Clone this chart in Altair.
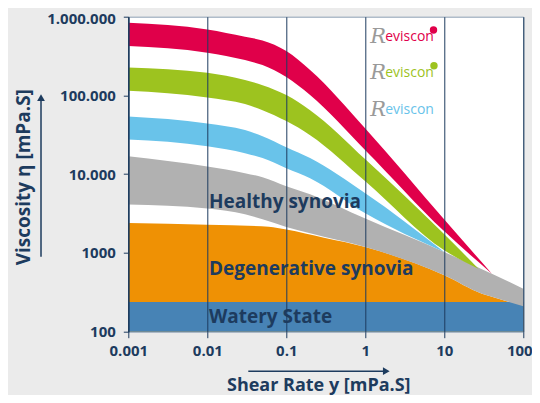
import altair as alt
import pandas as pd

NAVY = "#1d3b5e"
FONT = "Open Sans"

# ---- data ----
red_x = [0.001, 0.01, 0.03, 0.05, 0.1, 0.2, 1, 10, 40]
red_top = [840000, 690000, 557000, 498000, 366000, 210000, 38000, 2650, 546]
red_bot = [424000, 349000, 281000, 243000, 171000, 101000, 20200, 1880, 546]

green_x = [0.001, 0.01, 0.03, 0.05, 0.1, 0.2, 1, 10, 27]
green_top = [227000, 194000, 157000, 135000, 101000, 65000, 15500, 1730, 632]
green_bot = [115000, 94400, 77600, 65100, 47200, 31300, 8150, 1080, 632]

blue_x = [0.001, 0.01, 0.03, 0.05, 0.1, 0.2, 1, 10]
blue_top = [54100, 44100, 36300, 30400, 22000, 16000, 5730, 1028]
blue_bot = [27600, 22700, 18500, 16000, 11900, 8900, 3190, 1028]

gray_x = [0.001, 0.01, 0.03, 0.05, 0.1, 0.2, 1, 10, 30, 40, 100]
gray_top = [16900, 12500, 10300, 9160, 7040, 5570, 2730, 1028, 622, 546, 352]
gray_bot = [4120, 3660, 3100, 2680, 2140, 1780, 1190, 520, 304, 278, 210]

orange_x = [0.001, 0.01, 0.06, 0.1, 0.3, 1, 10, 30, 40, 100]
orange_top = [2400, 2280, 2150, 1980, 1560, 1190, 520, 304, 278, 210]

watery_x = [0.001, 100]
watery_level = 238
floor_level = 100

x_ticks = [0.001, 0.01, 0.1, 1, 10, 100]
y_ticks = [100, 1000, 10000, 100000, 1000000]

zone_labels = ["Healthy synovia", "Degenerative synovia", "Watery State"]
zone_x = [0.0105, 0.0105, 0.0105]
zone_y = [4500, 623, 155]

logo_colors = ["#e0004a", "#9dc31f", "#69c3ea"]
logo_x = [1.784, 1.784, 1.784]
logo_y = [495000, 172600, 57400]
dot_x = [7.3, 7.4]
dot_y = [677000, 238000]
dot_colors = ["#e0004a", "#9dc31f"]

# ---- scales / axes ----
xscale = alt.Scale(type="log", domain=[0.001, 100])
yscale = alt.Scale(type="log", domain=[100, 1000000])

xaxis = alt.Axis(
    values=x_ticks,
    labelExpr="datum.value < 1 ? format(datum.value, '.3~f') : format(datum.value, 'd')",
    labelOffset=alt.ExprRef(expr="datum.value == 100 ? -4 : 0"),
    grid=True, gridColor=NAVY, gridOpacity=1, gridWidth=1,
    domain=False, ticks=True, tickColor=NAVY, tickSize=6,
    labelFont=FONT, labelFontWeight="bold", labelFontSize=15, labelColor=NAVY,
    labelPadding=6, labelFlush=False,
    title="Shear Rate y [mPa.S]", titleFont=FONT, titleFontWeight="bold",
    titleFontSize=18, titleColor=NAVY, titleX=190, titleY=58.5,
    titleAlign="center", titleBaseline="alphabetic", zindex=1,
)
yaxis = alt.Axis(
    values=y_ticks,
    labelExpr="datum.value == 1000000 ? '1.000.000' : datum.value == 100000 ? '100.000' : datum.value == 10000 ? '10.000' : datum.value == 1000 ? '1000' : '100'",
    labelOffset=alt.ExprRef(expr="datum.value == 1000000 ? 2 : 0"),
    grid=False, domain=True, domainColor=NAVY, domainWidth=1.5,
    ticks=True, tickColor=NAVY, tickSize=5,
    labelFont=FONT, labelFontWeight="bold", labelFontSize=15, labelColor=NAVY,
    labelPadding=8, labelFlush=False,
    title="Viscosity η [mPa.S]", titleFont=FONT, titleFontWeight="bold",
    titleFontSize=19, titleColor=NAVY, titleX=-99, titleY=160, titleAngle=-90,
    titleAlign="center", titleBaseline="alphabetic", zindex=1,
)


def X(field):
    return alt.X(field, type="quantitative", scale=xscale, axis=xaxis)


def Y(field):
    return alt.Y(field, type="quantitative", scale=yscale, axis=yaxis)


def band(xs, tops, bots, color):
    df = pd.DataFrame({"x": xs, "top": tops, "bot": bots})
    return alt.Chart(df).mark_area(color=color, interpolate="monotone", opacity=1).encode(
        x=X("x"), y=Y("top"), y2="bot"
    )


orange = band(orange_x, orange_top, [floor_level] * len(orange_x), "#ef9104")
watery = band(watery_x, [watery_level] * 2, [floor_level] * 2, "#4783b5")
gray = band(gray_x, gray_top, gray_bot, "#b1b1b1")
blue = band(blue_x, blue_top, blue_bot, "#69c3ea")
green = band(green_x, green_top, green_bot, "#9dc31f")
red = band(red_x, red_top, red_bot, "#e0004a")

zones = alt.Chart(pd.DataFrame({"x": zone_x, "y": zone_y, "t": zone_labels})).mark_text(
    align="left", baseline="middle", font=FONT, fontWeight="bold", fontSize=19, color=NAVY
).encode(x=X("x"), y=Y("y"), text="t:N")

logo_df = pd.DataFrame({"x": logo_x, "y": logo_y, "c": logo_colors})
logo_R = alt.Chart(logo_df).mark_text(
    align="right", baseline="alphabetic", font="DejaVu Serif", fontStyle="italic",
    fontSize=21, color="#9a9a9a", dx=1, dy=2
).encode(x=X("x"), y=Y("y"), text=alt.value("R"))
logo_word = alt.Chart(logo_df).mark_text(
    align="left", baseline="alphabetic", font=FONT, fontSize=14
).encode(x=X("x"), y=Y("y"), text=alt.value("eviscon"),
         color=alt.Color("c:N", scale=None))
dots = alt.Chart(pd.DataFrame({"x": dot_x, "y": dot_y, "c": dot_colors})).mark_point(
    filled=True, size=55, opacity=1
).encode(x=X("x"), y=Y("y"), color=alt.Color("c:N", scale=None))

one = alt.Data(values=[{"a": 1}])
y_arrow = alt.Chart(one).mark_rule(color=NAVY, strokeWidth=1.5).encode(
    x=alt.value(-87.3), y=alt.value(240), y2=alt.value(82)
)
y_head = alt.Chart(one).mark_point(shape="triangle-up", filled=True, size=60, color=NAVY, opacity=1).encode(
    x=alt.value(-87.3), y=alt.value(81)
)
x_arrow = alt.Chart(one).mark_rule(color=NAVY, strokeWidth=1.5).encode(
    x=alt.value(120), x2=alt.value(256), y=alt.value(354.5)
)
x_head = alt.Chart(one).mark_point(shape="triangle-right", filled=True, size=60, color=NAVY, opacity=1).encode(
    x=alt.value(258), y=alt.value(354.5)
)

chart = alt.layer(
    orange, watery, gray, blue, green, red, zones, logo_R, logo_word, dots,
    y_arrow, y_head, x_arrow, x_head
).properties(
    width=395, height=315,
    autosize=alt.AutoSizeParams(type="none"),
    padding={"left": 120.3, "top": 8.7, "right": 8.7, "bottom": 63},
).configure(background="#ebebeb").configure_view(
    fill="white", stroke="#8da0b3", strokeWidth=1
)

chart.save("out.html", embed_options={"renderer": "svg", "actions": False})
